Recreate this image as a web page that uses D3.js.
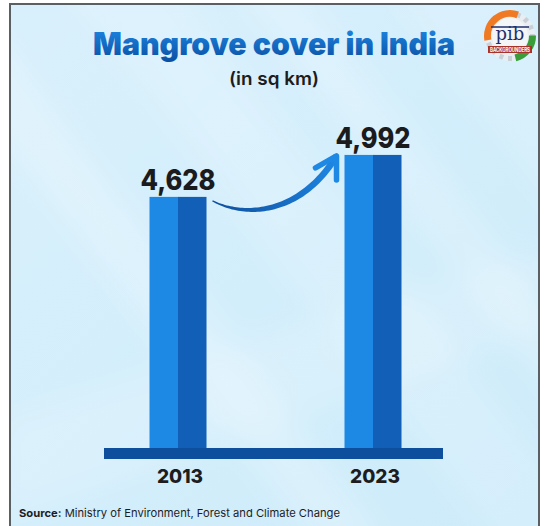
<!DOCTYPE html>
<html>
<head>
<meta charset="utf-8">
<script src="https://cdn.jsdelivr.net/npm/d3@7"></script>
<style>
  html, body { margin: 0; padding: 0; background: #ffffff; }
  svg { display: block; }
</style>
</head>
<body>
<svg id="chart" width="546" height="526"></svg>
<script>
// Mangrove cover in India, 2013 vs 2023 (sq km)
const years = ["2013", "2023"];
const coverSqKm = [4628, 4992];
const valueLabels = ["4,628", "4,992"];
const titleText = "Mangrove cover in India";
const subtitleText = "(in sq km)";
const sourceLabel = "Source:";
const sourceText = " Ministry of Environment, Forest and Climate Change";

const W = 546, H = 526;
const svg = d3.select("#chart");
const defs = svg.append("defs");

// ---- background panel ----
const bg = defs.append("linearGradient").attr("id", "bgGrad")
  .attr("x1", "0").attr("y1", "0").attr("x2", "1").attr("y2", "1");
bg.append("stop").attr("offset", "0%").attr("stop-color", "#d9f0fc");
bg.append("stop").attr("offset", "50%").attr("stop-color", "#d3eefb");
bg.append("stop").attr("offset", "100%").attr("stop-color", "#cdebfa");

const clip = defs.append("clipPath").attr("id", "panelClip");
clip.append("rect").attr("x", 10).attr("y", 4).attr("width", 529).attr("height", 530);

const soft = defs.append("filter").attr("id", "soft")
  .attr("x", "-20%").attr("y", "-20%").attr("width", "140%").attr("height", "140%");
soft.append("feGaussianBlur").attr("stdDeviation", 14);

svg.append("rect").attr("x", 10).attr("y", 4).attr("width", 529).attr("height", 530)
  .attr("fill", "url(#bgGrad)");

// soft diagonal light streaks
const streaks = svg.append("g").attr("clip-path", "url(#panelClip)")
  .append("g").attr("filter", "url(#soft)");
const streakBands = [
  { x: -120, w: 70, o: 0.22 },
  { x: 60, w: 110, o: 0.16 },
  { x: 230, w: 60, o: 0.2 },
  { x: 380, w: 120, o: 0.14 },
  { x: 560, w: 80, o: 0.2 }
];
streakBands.forEach(s => {
  streaks.append("polygon")
    .attr("points", `${s.x},${-20} ${s.x + s.w},${-20} ${s.x + s.w + 440},${H + 20} ${s.x + 440},${H + 20}`)
    .attr("fill", "#ffffff").attr("opacity", s.o);
});
// lighter band in the lower area
streaks.append("polygon")
  .attr("points", `0,420 546,250 546,330 0,520`)
  .attr("fill", "#ffffff").attr("opacity", 0.16);

svg.append("rect").attr("x", 10).attr("y", 4).attr("width", 529).attr("height", 530)
  .attr("fill", "none").attr("stroke", "#5a5f63").attr("stroke-width", 2);

// ---- scales ----
const x = d3.scalePoint().domain(years).range([178, 373]);
const y = d3.scaleLinear().domain([2450, 5000]).range([448, 154]);
const barW = 57;
const base = y.range()[0];

// ---- title ----
const tg = defs.append("linearGradient").attr("id", "titleGrad")
  .attr("x1", "0").attr("y1", "0").attr("x2", "0").attr("y2", "1");
tg.append("stop").attr("offset", "0%").attr("stop-color", "#1f8ae6");
tg.append("stop").attr("offset", "100%").attr("stop-color", "#0a4fa3");

svg.append("text")
  .attr("x", 274).attr("y", 55)
  .attr("text-anchor", "middle")
  .attr("font-family", "Inter, 'Open Sans', sans-serif")
  .attr("font-weight", 900)
  .attr("font-size", 31)
  .attr("textLength", 362).attr("lengthAdjust", "spacingAndGlyphs")
  .attr("fill", "url(#titleGrad)")
  .text(titleText);

svg.append("text")
  .attr("x", 274).attr("y", 85)
  .attr("text-anchor", "middle")
  .attr("font-family", "Inter, 'Open Sans', sans-serif")
  .attr("font-weight", 600)
  .attr("font-size", 18)
  .attr("textLength", 90).attr("lengthAdjust", "spacingAndGlyphs")
  .attr("fill", "#1d1d1f")
  .text(subtitleText);

// ---- bars ----
const bars = svg.append("g");
years.forEach((yr, i) => {
  const cx = x(yr), top = y(coverSqKm[i]);
  bars.append("rect")
    .attr("x", cx - barW / 2).attr("y", top)
    .attr("width", barW / 2 + 0.5).attr("height", base - top)
    .attr("fill", "#1e88e5");
  bars.append("rect")
    .attr("x", cx).attr("y", top)
    .attr("width", barW / 2).attr("height", base - top)
    .attr("fill", "#115fb6");
  svg.append("text")
    .attr("x", cx).attr("y", top - 7)
    .attr("text-anchor", "middle")
    .attr("font-family", "Inter, 'Open Sans', sans-serif")
    .attr("font-weight", 800)
    .attr("font-size", 28)
    .attr("textLength", 75).attr("lengthAdjust", "spacingAndGlyphs")
    .attr("fill", "#1b1b1d")
    .text(valueLabels[i]);
});

// baseline slab
svg.append("rect")
  .attr("x", 104).attr("y", base)
  .attr("width", 443 - 104).attr("height", 11)
  .attr("fill", "#0d4f9c");

// year labels
years.forEach(yr => {
  svg.append("text")
    .attr("x", x(yr) + 2).attr("y", 483)
    .attr("text-anchor", "middle")
    .attr("font-family", "Inter, 'Open Sans', sans-serif")
    .attr("font-weight", 800)
    .attr("font-size", 19)
    .attr("fill", "#1d1d1f")
    .text(yr);
});

// ---- growth arrow between the two bar tops ----
const ag = defs.append("linearGradient").attr("id", "arrowGrad")
  .attr("gradientUnits", "userSpaceOnUse")
  .attr("x1", 212).attr("y1", 205).attr("x2", 337).attr("y2", 158);
ag.append("stop").attr("offset", "0%").attr("stop-color", "#0f4f9e");
ag.append("stop").attr("offset", "100%").attr("stop-color", "#1e88e5");

const p0 = [x(years[0]) + barW / 2 + 6, y(coverSqKm[0]) + 4];
const p3 = [x(years[1]) - barW / 2 - 8, y(coverSqKm[1]) + 1];
const p1 = [p0[0] + 32, p0[1] + 17];
const p2 = [p0[0] + 88, p0[1] + 14];
const bez = t => {
  const u = 1 - t;
  return [
    u*u*u*p0[0] + 3*u*u*t*p1[0] + 3*u*t*t*p2[0] + t*t*t*p3[0],
    u*u*u*p0[1] + 3*u*u*t*p1[1] + 3*u*t*t*p2[1] + t*t*t*p3[1]
  ];
};
const N = 60, left = [], right = [];
for (let k = 0; k <= N; k++) {
  const t = k / N;
  const a = bez(Math.max(0, t - 0.01)), b = bez(Math.min(1, t + 0.01));
  const dx = b[0] - a[0], dy = b[1] - a[1], len = Math.hypot(dx, dy);
  const nx = -dy / len, ny = dx / len;
  const hw = 0.6 + 2.6 * Math.sin(Math.min(t, 0.95) * Math.PI * 0.55);
  const p = bez(t);
  left.push([p[0] + nx * hw, p[1] + ny * hw]);
  right.push([p[0] - nx * hw, p[1] - ny * hw]);
}
svg.append("path")
  .attr("d", d3.line()(left.concat(right.reverse())) + "Z")
  .attr("fill", "url(#arrowGrad)");

const tip = p3;
svg.append("path")
  .attr("d", `M${tip[0] - 21},${tip[1] + 12} L${tip[0]},${tip[1]} L${tip[0]},${tip[1] + 24}`)
  .attr("fill", "none")
  .attr("stroke", "#1e88e5")
  .attr("stroke-width", 5.5)
  .attr("stroke-linecap", "round")
  .attr("stroke-linejoin", "round");

// ---- source line ----
const src = svg.append("text")
  .attr("x", 19).attr("y", 517)
  .attr("font-family", "Inter, 'Open Sans', sans-serif")
  .attr("font-size", 11)
  .attr("fill", "#1d1d1f");
src.append("tspan").attr("font-weight", 700).text(sourceLabel);
src.append("tspan").attr("font-weight", 400).text(sourceText);
src.attr("textLength", 321).attr("lengthAdjust", "spacingAndGlyphs");

// ---- PIB Backgrounders badge ----
const logo = svg.append("g").attr("transform", "translate(510,36)");
const arc = d3.arc();
logo.append("circle").attr("r", 25).attr("fill", "#e9eef2");
// gear-like ring
const teeth = d3.range(16);
logo.selectAll("rect.tooth").data(teeth).join("rect")
  .attr("x", -2).attr("y", -25).attr("width", 4).attr("height", 5)
  .attr("fill", "#c9d0d6")
  .attr("transform", d => `rotate(${d * 22.5})`);
logo.append("path")
  .attr("d", arc({ innerRadius: 19, outerRadius: 26, startAngle: -1.75, endAngle: 0.35 }))
  .attr("fill", "#f07a24");
logo.append("path")
  .attr("d", arc({ innerRadius: 19, outerRadius: 26, startAngle: 1.55, endAngle: 2.9 }))
  .attr("fill", "#3a9d3a");
logo.append("circle").attr("r", 18).attr("fill", "#f3f5f7");
logo.append("line").attr("x1", -19).attr("x2", 19).attr("y1", -9).attr("y2", -9)
  .attr("stroke", "#1f2f6b").attr("stroke-width", 1.5);
logo.append("text")
  .attr("x", 0).attr("y", 4)
  .attr("text-anchor", "middle")
  .attr("font-family", "'DejaVu Serif', serif")
  .attr("font-size", 18)
  .attr("fill", "#1f2f6b")
  .text("pib");
logo.append("rect").attr("x", -22).attr("y", 10).attr("width", 44).attr("height", 7)
  .attr("fill", "#a8322a");
logo.append("text")
  .attr("x", 0).attr("y", 15.6)
  .attr("text-anchor", "middle")
  .attr("font-family", "Inter, sans-serif")
  .attr("font-weight", 700)
  .attr("font-size", 5.5)
  .attr("textLength", 40).attr("lengthAdjust", "spacingAndGlyphs")
  .attr("fill", "#ffffff")
  .text("BACKGROUNDERS");
// keep the panel border crisp over the badge
svg.append("line").attr("x1", 539).attr("x2", 539).attr("y1", 3).attr("y2", 526)
  .attr("stroke", "#5a5f63").attr("stroke-width", 2);
</script>
</body>
</html>
